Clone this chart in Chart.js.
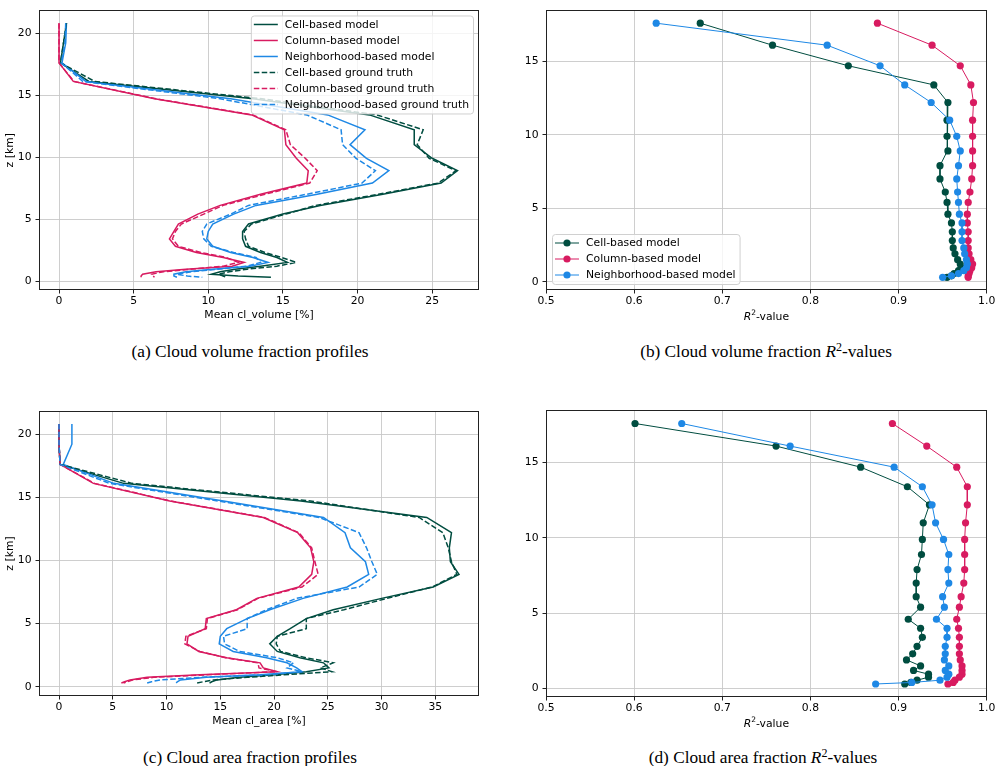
<!DOCTYPE html>
<html>
<head>
<meta charset="utf-8">
<script src="https://cdn.jsdelivr.net/npm/chart.js@4.4.0/dist/chart.umd.min.js"></script>
<style>
  body { margin: 0; background: #fff; }
  #fig { position: relative; width: 997px; height: 766px; overflow: hidden; background: #fff; }
  canvas { position: absolute; }
  .cap { position: absolute; width: 500px; height: 22px; line-height: 22px; text-align: center;
         font-family: "Liberation Serif", "DejaVu Serif", serif; font-size: 17.3px; color: #000; white-space: nowrap; }
  .cap .sup { font-size: 12px; position: relative; top: -6px; }
</style>
</head>
<body>
<div id="fig">
  <canvas id="cA" width="497" height="330" style="left:0;top:0;width:497px;height:330px"></canvas>
  <canvas id="cB" width="500" height="330" style="left:497px;top:0;width:500px;height:330px"></canvas>
  <canvas id="cC" width="497" height="336" style="left:0;top:400px;width:497px;height:336px"></canvas>
  <canvas id="cD" width="500" height="337" style="left:497px;top:400px;width:500px;height:337px"></canvas>
  <div class="cap" style="left:0;top:341px">(a) Cloud volume fraction profiles</div>
  <div class="cap" style="left:516px;top:341px">(b) Cloud volume fraction <i>R</i><span class="sup">2</span>-values</div>
  <div class="cap" style="left:0;top:747px">(c) Cloud area fraction profiles</div>
  <div class="cap" style="left:513px;top:747px">(d) Cloud area fraction <i>R</i><span class="sup">2</span>-values</div>
</div>
<script>
'use strict';

// model levels [km], top to bottom
const levels = [20.8, 19.2, 17.6, 16.1, 14.7, 13.4, 12.2, 11.0, 9.9, 8.9, 7.9, 7.0, 6.1, 5.4,
                4.6, 4.0, 3.4, 2.8, 2.3, 1.9, 1.5, 1.2, 0.95, 0.75, 0.55, 0.4, 0.3];
// R2 values are only given from 17.6 km down
const r2Levels = levels.slice(2);

const seriesNames = ['Cell-based model', 'Column-based model', 'Neighborhood-based model',
                     'Cell-based ground truth', 'Column-based ground truth', 'Neighborhood-based ground truth'];

// (a) mean cl_volume [%]
const cellModelVol  = [0.5, 0.3, 0.1, 2.0, 13.0, 20.8, 23.8, 23.8, 25.0, 26.7, 25.6, 21.7, 17.5, 15.0, 12.7, 12.3, 12.3, 12.5, 13.5, 14.6, 15.3, 13.5, 11.8, 10.8, 10.2, 12.0, 14.2];
const colModelVol   = [0, 0, 0, 0.96, 6.4, 12.9, 15.1, 15.2, 15.9, 16.7, 16.6, 13.5, 10.8, 9.3, 8.0, 7.7, 7.4, 7.8, 9.2, 11.0, 12.4, 11.6, 8.5, 6.5, 5.6, 5.5, 5.5];
const nbModelVol    = [0.5, 0.45, 0.2, 1.8, 11.5, 18.0, 20.5, 19.5, 20.6, 22.1, 21.0, 17.3, 13.2, 11.7, 10.3, 10.0, 9.9, 10.3, 11.5, 13.0, 14.0, 12.8, 10.3, 8.5, 7.7, 7.7, 7.9];
const cellTruthVol  = [0.5, 0.3, 0.1, 2.4, 13.6, 21.3, 24.4, 24.0, 24.8, 26.6, 25.4, 21.4, 17.2, 15.2, 12.9, 12.4, 12.5, 12.7, 13.8, 14.9, 15.9, 14.6, 12.6, 11.4, 10.7, 11.0, 11.2];
const colTruthVol   = [0, 0, 0, 1.0, 6.5, 13.0, 15.2, 15.5, 16.5, 17.3, 16.8, 13.8, 11.0, 9.7, 8.2, 7.8, 7.6, 8.0, 9.5, 11.2, 12.0, 11.0, 8.8, 7.0, 6.2, 6.3, 6.4];
const nbTruthVol    = [0.45, 0.4, 0.15, 1.6, 10.8, 16.6, 18.9, 19.0, 19.9, 21.2, 20.3, 16.6, 12.7, 11.5, 9.9, 9.6, 9.7, 10.2, 11.7, 13.2, 13.5, 12.6, 10.6, 8.9, 7.9, 8.6, 9.6];

// (b) R2 of cl_volume
const cellR2Vol = [0.675, 0.757, 0.843, 0.940, 0.956, 0.955, 0.955, 0.956, 0.947, 0.947, 0.953, 0.955, 0.956, 0.960, 0.961, 0.961, 0.962, 0.964, 0.967, 0.970, 0.971, 0.968, 0.963, 0.960, 0.955];
const colR2Vol  = [0.876, 0.938, 0.970, 0.982, 0.985, 0.984, 0.984, 0.984, 0.984, 0.983, 0.981, 0.979, 0.978, 0.978, 0.979, 0.979, 0.979, 0.980, 0.982, 0.984, 0.983, 0.981, 0.980, 0.979, 0.979];
const nbR2Vol   = [0.625, 0.819, 0.879, 0.907, 0.937, 0.958, 0.966, 0.970, 0.968, 0.966, 0.967, 0.968, 0.969, 0.972, 0.972, 0.972, 0.974, 0.975, 0.977, 0.978, 0.977, 0.974, 0.968, 0.960, 0.950];

// (c) mean cl_area [%]
const cellModelArea = [0, 0, 0.1, 6.0, 22.5, 34.2, 36.5, 36.3, 36.4, 37.2, 34.8, 30.0, 25.5, 23.0, 21.5, 20.3, 19.6, 20.3, 22.4, 24.6, 25.1, 23.0, 20.0, 16.8, 14.7, 14.2, 14.0];
const colModelArea  = [0, 0, 0.1, 3.2, 10.3, 19.0, 22.2, 23.4, 23.7, 23.5, 22.3, 18.4, 16.5, 13.7, 13.6, 12.0, 11.9, 13.0, 15.6, 18.7, 19.0, 20.3, 13.1, 8.2, 6.6, 6.1, 5.8];
const nbModelArea   = [1.2, 1.2, 0.4, 5.1, 15.3, 24.6, 26.6, 27.1, 28.5, 28.8, 26.8, 22.7, 19.6, 17.5, 15.6, 15.0, 14.9, 16.2, 19.3, 21.2, 22.1, 22.6, 18.7, 13.7, 11.3, 11.0, 10.9];
const cellTruthArea = [0, 0, 0.1, 6.8, 23.4, 33.5, 35.7, 36.2, 36.5, 37.0, 34.7, 30.5, 26.5, 23.0, 23.0, 20.3, 20.2, 20.6, 23.0, 25.5, 24.3, 25.4, 20.9, 17.5, 14.4, 13.4, 12.8];
const colTruthArea  = [0, 0, 0.1, 3.3, 10.4, 19.1, 22.3, 23.5, 23.8, 24.1, 22.6, 18.5, 16.6, 13.8, 13.7, 11.8, 11.7, 13.1, 15.5, 18.5, 18.6, 20.3, 13.7, 8.8, 6.9, 6.3, 6.0];
const nbTruthArea   = [0, 0, 0.1, 4.7, 14.8, 24.2, 27.9, 28.6, 29.1, 29.6, 27.9, 22.1, 19.3, 17.5, 17.5, 15.3, 15.4, 16.8, 20.3, 21.8, 21.2, 22.6, 19.3, 13.1, 9.4, 8.6, 8.2];

// (d) R2 of cl_area
const cellR2Area = [0.601, 0.761, 0.857, 0.910, 0.935, 0.928, 0.927, 0.926, 0.921, 0.920, 0.920, 0.925, 0.911, 0.925, 0.927, 0.921, 0.916, 0.909, 0.925, 0.917, 0.934, 0.934, 0.921, 0.914, 0.907];
const colR2Area  = [0.893, 0.932, 0.966, 0.978, 0.978, 0.976, 0.975, 0.975, 0.975, 0.974, 0.971, 0.969, 0.966, 0.968, 0.969, 0.969, 0.969, 0.970, 0.972, 0.972, 0.972, 0.969, 0.964, 0.962, 0.956];
const nbR2Area   = [0.654, 0.777, 0.895, 0.927, 0.938, 0.942, 0.951, 0.957, 0.956, 0.957, 0.950, 0.952, 0.943, 0.955, 0.955, 0.953, 0.953, 0.952, 0.957, 0.953, 0.957, 0.955, 0.947, 0.915, 0.874];

// ticks
const volTicks  = [0, 5, 10, 15, 20, 25];
const areaTicks = [0, 5, 10, 15, 20, 25, 30, 35];
const r2Ticks   = [0.5, 0.6, 0.7, 0.8, 0.9, 1.0];
const zTicks    = [0, 5, 10, 15, 20];
const zTicksR2  = [0, 5, 10, 15];

const GREEN = '#004D40', PINK = '#D81B60', BLUE = '#1E88E5';
const COLORS = [GREEN, PINK, BLUE];
const FONT = '"DejaVu Sans", Verdana, sans-serif';
const FS = 10.8;
const DASH = [5.5, 2.4];

function pts(xs, zs) { return xs.map((x, i) => ({ x, y: zs[i] })); }

function profileSets(list) {
  return list.map((xs, i) => ({
    label: seriesNames[i],
    data: pts(xs, levels),
    borderColor: COLORS[i % 3],
    backgroundColor: COLORS[i % 3],
    borderWidth: 1.5,
    borderDash: i >= 3 ? DASH : [],
    pointRadius: 0,
    showLine: true,
    tension: 0,
    order: list.length - i
  }));
}

function r2Sets(list) {
  return list.map((xs, i) => ({
    label: seriesNames[i],
    data: pts(xs, r2Levels),
    borderColor: COLORS[i],
    backgroundColor: COLORS[i],
    borderWidth: 1,
    pointRadius: 3.6,
    pointBorderWidth: 0,
    showLine: true,
    tension: 0,
    order: list.length - i
  }));
}

// axes box drawn over the lines, like matplotlib spines
const frame = {
  id: 'frame',
  afterDatasetsDraw(chart) {
    const { ctx, chartArea: a } = chart;
    ctx.save();
    ctx.strokeStyle = '#222';
    ctx.lineWidth = 1;
    ctx.strokeRect(Math.round(a.left) + 0.5, Math.round(a.top) + 0.5,
                   Math.round(a.right - a.left) - 1, Math.round(a.bottom - a.top) - 1);
    ctx.restore();
  }
};

const boxLegend = {
  id: 'boxLegend',
  afterDatasetsDraw(chart, args, opts) {
    if (!opts.corner) return;
    const { ctx, chartArea: a } = chart;
    const sets = chart.data.datasets;
    ctx.save();
    ctx.font = FS + 'px ' + FONT;
    const tw = Math.max(...sets.map(d => ctx.measureText(d.label).width));
    const w = 34 + tw + 4, h = sets.length * 16 + 2;
    const x = opts.corner === 'ne' ? a.right - 6 - w : a.left + 6;
    const y = opts.corner === 'ne' ? a.top + 5 : a.bottom - 6 - h;
    ctx.beginPath();
    ctx.roundRect(x + 0.5, y + 0.5, w, h, 3);
    ctx.fillStyle = 'rgba(255,255,255,0.8)';
    ctx.fill();
    ctx.strokeStyle = '#d0d0d0';
    ctx.lineWidth = 1;
    ctx.stroke();
    sets.forEach((d, i) => {
      const cy = y + 9 + i * 16;
      ctx.strokeStyle = d.borderColor;
      ctx.lineWidth = d.borderWidth;
      ctx.setLineDash(d.borderDash || []);
      ctx.beginPath();
      ctx.moveTo(x + 3, cy);
      ctx.lineTo(x + 27, cy);
      ctx.stroke();
      ctx.setLineDash([]);
      if (d.pointRadius > 0) {
        ctx.fillStyle = d.backgroundColor;
        ctx.beginPath();
        ctx.arc(x + 15, cy, d.pointRadius, 0, Math.PI * 2);
        ctx.fill();
      }
      ctx.fillStyle = '#000';
      ctx.textBaseline = 'middle';
      ctx.textAlign = 'left';
      ctx.fillText(d.label, x + 34, cy + 0.5);
    });
    ctx.restore();
  }
};

// "R^2-value" x-axis label with italic R
const r2Title = {
  id: 'r2Title',
  afterDraw(chart, args, opts) {
    if (!opts.show) return;
    const { ctx, chartArea: a } = chart;
    ctx.save();
    ctx.fillStyle = '#000';
    ctx.textBaseline = 'alphabetic';
    ctx.textAlign = 'left';
    const parts = [['italic ' + FS + 'px ' + FONT, 'R', 0], ['7.5px ' + FONT, '2', -4.5], [FS + 'px ' + FONT, '-value', 0]];
    let total = 0;
    parts.forEach(p => { ctx.font = p[0]; total += ctx.measureText(p[1]).width; });
    let x = (a.left + a.right) / 2 - total / 2;
    const base = a.bottom + 29.5;
    parts.forEach(p => { ctx.font = p[0]; ctx.fillText(p[1], x, base + p[2]); x += ctx.measureText(p[1]).width; });
    ctx.restore();
  }
};

function makeChart(id, o) {
  const tickFont = { family: FONT, size: FS };
  return new Chart(document.getElementById(id), {
    type: 'scatter',
    data: { datasets: o.datasets },
    options: {
      responsive: false,
      animation: false,
      events: [],
      layout: { padding: { top: o.top, right: o.right, left: 0, bottom: 0 } },
      plugins: {
        legend: { display: false },
        tooltip: { enabled: false },
        boxLegend: { corner: o.legend || null },
        r2Title: { show: !!o.r2 }
      },
      scales: {
        x: {
          type: 'linear', position: 'bottom', min: o.xmin, max: o.xmax,
          afterBuildTicks: s => { s.ticks = o.xticks.map(v => ({ value: v })); },
          afterFit: s => { s.height = 40; },
          ticks: { font: tickFont, color: '#000', padding: 1, maxRotation: 0,
                   callback: v => o.r2 ? v.toFixed(1) : String(v) },
          grid: { color: '#c8c8c8', lineWidth: 0.9, tickColor: '#222', tickLength: 3.5, tickWidth: 1 },
          border: { display: false },
          title: { display: !!o.xtitle, text: o.xtitle || '', font: { family: FONT, size: FS }, color: '#000',
                   padding: { top: 0, bottom: 8 } }
        },
        y: {
          type: 'linear', position: 'left', min: o.ymin, max: o.ymax,
          afterBuildTicks: s => { s.ticks = o.yticks.map(v => ({ value: v })); },
          afterFit: s => { s.width = o.yw; },
          ticks: { font: tickFont, color: '#000', padding: 4 },
          grid: { color: '#c8c8c8', lineWidth: 0.9, tickColor: '#222', tickLength: 3.5, tickWidth: 1 },
          border: { display: false },
          title: { display: !o.r2, text: 'z [km]', font: { family: FONT, size: FS }, color: '#000',
                   padding: { top: 3.5, bottom: 0 } }
        }
      }
    },
    plugins: [frame, boxLegend, r2Title]
  });
}

makeChart('cA', {
  datasets: profileSets([cellModelVol, colModelVol, nbModelVol, cellTruthVol, colTruthVol, nbTruthVol]),
  xmin: -1.34, xmax: 28.14, ymin: -0.725, ymax: 21.825,
  xticks: volTicks, yticks: zTicks, yw: 39, top: 5, right: 18,
  xtitle: 'Mean cl_volume [%]', legend: 'ne'
});

makeChart('cB', {
  datasets: r2Sets([cellR2Vol, colR2Vol, nbR2Vol]),
  xmin: 0.5, xmax: 1.0, ymin: -0.565, ymax: 18.465,
  xticks: r2Ticks, yticks: zTicksR2, yw: 49, top: 5, right: 10.3,
  r2: true, legend: 'sw'
});

makeChart('cC', {
  datasets: profileSets([cellModelArea, colModelArea, nbModelArea, cellTruthArea, colTruthArea, nbTruthArea]),
  xmin: -1.86, xmax: 39.06, ymin: -0.725, ymax: 21.825,
  xticks: areaTicks, yticks: zTicks, yw: 39, top: 11, right: 18,
  xtitle: 'Mean cl_area [%]'
});

makeChart('cD', {
  datasets: r2Sets([cellR2Area, colR2Area, nbR2Area]),
  xmin: 0.5, xmax: 1.0, ymin: -0.565, ymax: 18.465,
  xticks: r2Ticks, yticks: zTicksR2, yw: 49, top: 10.3, right: 10.3,
  r2: true
});
</script>
</body>
</html>
